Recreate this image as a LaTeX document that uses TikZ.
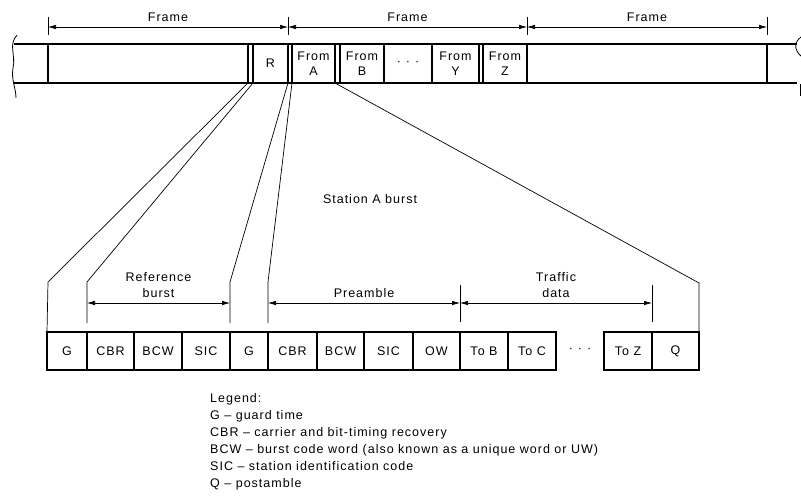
\documentclass[tikz,border=0pt]{standalone}
\usepackage{fontspec}
\setmainfont[LetterSpace=8]{Liberation Sans}
\usetikzlibrary{arrows.meta,positioning}

\begin{document}
\begin{tikzpicture}[
    x=1pt, y=-1pt,
    font=\fontsize{12.5}{14.5}\selectfont,
    bar/.style={line width=1.3pt},
    slot/.style={
        rectangle, draw, line width=1.3pt, inner sep=0pt, outer sep=0pt,
        minimum height=39pt, align=center
    },
    cell/.style={
        rectangle, draw, line width=1.2pt, inner sep=0pt, outer sep=0pt,
        minimum height=38pt
    },
    dim/.style={{Latex[length=8pt,width=4.5pt]}-{Latex[length=8pt,width=4.5pt]}, line width=0.6pt},
    lead/.style={line width=0.7pt},
    tick/.style={line width=0.7pt},
    lbl/.style={inner sep=0pt, text depth=0pt, align=center, font=\fontsize{12.5}{16}\selectfont}
]
\useasboundingbox (0,0) rectangle (801,497);

% TDMA frame
\draw[bar] (14,44) -- (797,44);
\draw[bar] (14,83) -- (797,83);
\draw[bar] (48,44) -- (48,83);
\draw[bar] (248,44) -- (248,83);
\draw[bar] (767,44) -- (767,83);
\draw[line width=0.8pt] (17,35) .. controls (8,45) and (16,55) .. (13,68)
    .. controls (11,80) and (16,88) .. (16,98);
\draw[line width=0.8pt] (801,37) .. controls (794,42) and (794,50) .. (801,56);
\draw[line width=0.8pt] (800,84) -- (800,96);

\node[slot, minimum width=35pt] (r) at (270.5,63.5) {R};
\node[slot, minimum width=43pt] (froma) at (313.5,63.5) {From\\A};
\node[slot, minimum width=44pt] (fromb) at (362,63.5) {From\\B};
\node (topdots) at (408,63) {·\hspace{5pt}·\hspace{5pt}·};
\node[slot, minimum width=47pt] (fromy) at (455.5,63.5) {From\\Y};
\node[slot, minimum width=44pt] (fromz) at (505,63.5) {From\\Z};

% frame lengths
\coordinate (t0) at (48,27);
\coordinate (t1) at (288,27);
\coordinate (t2) at (527,27);
\coordinate (t3) at (767,27);
\foreach \x in {48,288,527,767}
    \draw[tick] (\x,17) -- (\x,35);
\draw[dim] (t0) -- (t1) node[lbl, midway, above=5pt] {Frame};
\draw[dim] (t1) -- (t2) node[lbl, midway, above=5pt] {Frame};
\draw[dim] (t2) -- (t3) node[lbl, midway, above=5pt] {Frame};

\node (sab) at (370,199) {Station A burst};

% burst
\node[cell, minimum width=40pt] (g1) at (67,351) {G};
\node[cell, minimum width=47pt] (cbr1) at (110.5,351) {CBR};
\node[cell, minimum width=48pt] (bcw1) at (158,351) {BCW};
\node[cell, minimum width=48pt] (sic1) at (206,351) {SIC};
\node[cell, minimum width=38pt] (g2) at (249,351) {G};
\node[cell, minimum width=49pt] (cbr2) at (292.5,351) {CBR};
\node[cell, minimum width=47pt] (bcw2) at (340.5,351) {BCW};
\node[cell, minimum width=49pt] (sic2) at (388.5,351) {SIC};
\node[cell, minimum width=47pt] (ow) at (436.5,351) {OW};
\node[cell, minimum width=48pt] (tob) at (484,351) {To B};
\node[cell, minimum width=48pt] (toc) at (532,351) {To C};
\node (botdots) at (580,350) {·\hspace{5pt}·\hspace{5pt}·};
\node[cell, minimum width=48pt] (toz) at (628,351) {To Z};
\node[cell, minimum width=47pt] (q) at (675.5,351) {Q};

% expansion lines
\coordinate (gd) at (248,83);
\coordinate (a1) at (48,282);
\coordinate (a2) at (87,282);
\coordinate (a3) at (230,282);
\coordinate (a4) at (268,282);
\coordinate (a5) at (699,283);
\coordinate (e2) at (87,323);
\coordinate (e3) at (230,323);
\coordinate (e4) at (268,323);
\draw[lead] (gd) -- (a1) -- (g1.north west);
\draw[lead] (r.south west) -- (a2) -- (e2);
\draw[lead] (r.south east) -- (a3) -- (e3);
\draw[lead] (froma.south west) -- (a4) -- (e4);
\draw[lead] (froma.south east) -- (a5) -- (q.north east);

% burst parts
\coordinate (r1) at (87,303);
\coordinate (r2) at (230,303);
\coordinate (p1) at (268,303);
\coordinate (p2) at (460,303);
\coordinate (p3) at (652,303);
\draw[tick] (460,285) -- (460,322);
\draw[tick] (652,285) -- (652,322);
\draw[dim] (r1) -- (r2) node[lbl, midway, above=5pt] {Reference\\burst};
\draw[dim] (p1) -- (p2) node[lbl, midway, above=5pt] {Preamble};
\draw[dim] (p2) -- (p3) node[lbl, midway, above=5pt] {Traffic\\data};

% legend
\node[anchor=north west, align=left, inner sep=0pt,
      font=\fontsize{12.5}{17}\selectfont] (legend) at (210,393)
    {Legend:\\
     G -- guard time\\
     CBR -- carrier and bit-timing recovery\\
     BCW -- burst code word (also known as a unique word or UW)\\
     SIC -- station identification code\\
     Q -- postamble};

\end{tikzpicture}
\end{document}
